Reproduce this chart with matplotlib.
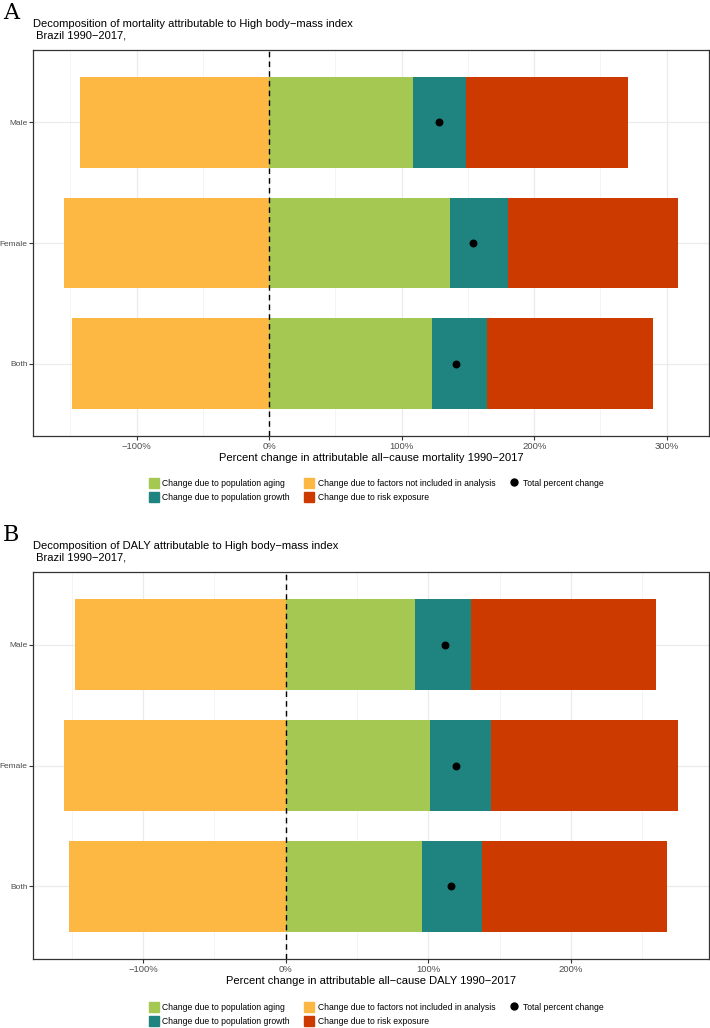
import numpy as np
import matplotlib.pyplot as plt
from matplotlib.patches import Patch
from matplotlib.lines import Line2D
from matplotlib.ticker import FixedLocator, FuncFormatter

plt.rcParams['font.family'] = ['Liberation Sans', 'DejaVu Sans']

groups = ["Both", "Female", "Male"]

# panel A: mortality (percent)
aging_A = [122.6, 136.7, 108.5]
growth_A = [41.7, 43.2, 40.2]
risk_A = [125.4, 128.8, 122.2]
other_A = [-148.7, -155.0, -142.7]

# panel B: DALY (percent)
aging_B = [95.6, 101.2, 90.7]
growth_B = [41.8, 42.8, 39.3]
risk_B = [130.0, 131.3, 129.7]
other_B = [-151.7, -155.6, -147.8]

c_aging = "#A5C852"
c_growth = "#1F8380"
c_other = "#FDB843"
c_risk = "#CC3A00"

labels = ["Change due to population aging", "Change due to population growth",
          "Change due to factors not included in analysis", "Change due to risk exposure",
          "Total percent change"]

W, H = 710, 1028
fig = plt.figure(figsize=(W / 100, H / 100), dpi=100)


def panel(rect, aging, growth, risk, other, letter, title, xlabel, leg_y):
    ax = fig.add_axes([rect[0] / W, 1 - rect[3] / H, (rect[2] - rect[0]) / W, (rect[3] - rect[1]) / H])
    y = np.arange(len(groups))
    aging = np.array(aging); growth = np.array(growth)
    risk = np.array(risk); other = np.array(other)
    total = aging + growth + risk + other
    h = 0.75
    ax.barh(y, other, height=h, color=c_other, zorder=2)
    ax.barh(y, aging, height=h, color=c_aging, zorder=2)
    ax.barh(y, growth, left=aging, height=h, color=c_growth, zorder=2)
    ax.barh(y, risk, left=aging + growth, height=h, color=c_risk, zorder=2)
    ax.scatter(total, y, s=22, color="black", zorder=4)
    ax.axvline(0, color="black", linestyle=(0, (4, 3)), linewidth=1, zorder=3)

    lo = min(other.min(), 0); hi = (aging + growth + risk).max()
    pad = 0.05 * (hi - lo)
    ax.set_xlim(lo - pad, hi + pad)
    ax.set_ylim(-0.6, len(groups) - 0.4)
    major = [t for t in range(-300, 501, 100) if lo - pad <= t <= hi + pad]
    minor = [t for t in range(-350, 501, 50) if lo - pad <= t <= hi + pad and t % 100 != 0]
    ax.xaxis.set_major_locator(FixedLocator(major))
    ax.xaxis.set_minor_locator(FixedLocator(minor))
    ax.xaxis.set_major_formatter(FuncFormatter(lambda v, p: ("\u2212" if v < 0 else "") + "%d%%" % abs(v)))
    ax.set_yticks(y)
    ax.set_yticklabels(groups)
    ax.grid(True, which="major", color="#EBEBEB", linewidth=0.9, zorder=0)
    ax.grid(True, which="minor", axis="x", color="#F2F2F2", linewidth=0.6, zorder=0)
    ax.set_axisbelow(True)
    ax.tick_params(axis="x", which="major", labelsize=6.8, labelcolor="#4D4D4D",
                   color="#333333", length=3, width=0.8, pad=1.5)
    ax.tick_params(axis="y", which="major", labelsize=6.0, labelcolor="#4D4D4D",
                   color="#333333", length=3, width=0.8, pad=1)
    ax.tick_params(axis="x", which="minor", length=0)
    for s in ax.spines.values():
        s.set_color("#333333")
        s.set_linewidth(0.9)
    ax.set_xlabel(xlabel, fontsize=8, labelpad=1)

    fig.text(3 / W, 1 - (rect[1] - 31) / H, letter, fontsize=16, family="DejaVu Serif",
             ha="left", va="baseline")
    fig.text(rect[0] / W, 1 - (rect[1] - 20) / H, title, fontsize=8, ha="left", va="center",
             linespacing=1.15)

    handles = [Patch(color=c_aging), Patch(color=c_growth), Patch(color=c_other), Patch(color=c_risk),
               Line2D([], [], marker="o", color="black", linestyle="none", markersize=5)]
    fig.legend(handles, labels, loc="center", bbox_to_anchor=(376 / W, 1 - leg_y / H), ncol=3,
               frameon=False, fontsize=6.2, handlelength=1.2, handleheight=1.4,
               columnspacing=1.6, handletextpad=0.4, labelspacing=0.4)
    return ax


panel((33, 50, 709, 436), aging_A, growth_A, risk_A, other_A, "A",
      "Decomposition of mortality attributable to High body\u2212mass index\n Brazil 1990\u22122017,",
      "Percent change in attributable all\u2212cause mortality 1990\u22122017", 490)
panel((33, 572, 709, 959), aging_B, growth_B, risk_B, other_B, "B",
      "Decomposition of DALY attributable to High body\u2212mass index\n Brazil 1990\u22122017,",
      "Percent change in attributable all\u2212cause DALY 1990\u22122017", 1014)

fig.savefig("out.png", dpi=100)
